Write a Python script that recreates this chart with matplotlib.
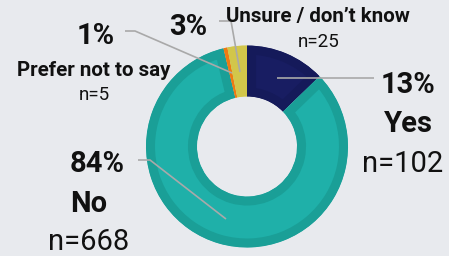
import matplotlib
matplotlib.use("Agg")
import matplotlib.pyplot as plt

# ---- data ----
categories = ["Yes", "No", "Prefer not to say", "Unsure / don\u2019t know"]
counts = [102, 668, 5, 25]
pct_labels = ["13%", "84%", "1%", "3%"]
n_labels = ["n=102", "n=668", "n=5", "n=25"]

# ---- style ----
dark_colors = ["#151a5a", "#1a9f97", "#ee7a12", "#d2c64a"]
light_colors = ["#181d62", "#1fb0a9", "#ee7a12", "#d2c64a"]
bg = "#e8eaee"
txt = "#111111"
line_c = "#a9a9a9"

W, H = 449, 256
fig = plt.figure(figsize=(W / 100, H / 100), dpi=100)
fig.patch.set_facecolor(bg)
ax = fig.add_axes([0, 0, 1, 1])

def Y(y):
    return H - y

cx, cy, R, width = 247, Y(146.5), 101, 51
wedges, _ = ax.pie(counts, colors=light_colors, radius=R, center=(cx, cy),
                   startangle=90, counterclock=False, frame=True,
                   wedgeprops=dict(width=width, linewidth=0))
ax.set_xlim(0, W)
ax.set_ylim(0, H)
ax.set_aspect("equal")
ax.axis("off")
for w, dc in zip(wedges, dark_colors):
    w.set_edgecolor(dc)
    w.set_linewidth(13)
    w.set_clip_on(True)
    w.set_clip_path(w)

font = "Roboto"
big = 21
med = 14.8
small = 13.5

def t(x, y, s, size, bold=False, ha="center"):
    ax.text(x, Y(y), s, fontsize=size, fontweight="bold" if bold else "normal",
            ha=ha, va="baseline", color=txt, family=font)

# Yes
t(408, 93, pct_labels[0], big, True)
t(408, 132, categories[0], big, True)
t(403, 172, n_labels[0], big)
# No
t(97, 172, pct_labels[1], big, True)
t(89, 212, categories[1], big, True)
t(88.5, 250, n_labels[1], big)
# Prefer not to say
t(96, 44, pct_labels[2], big, True)
t(94, 76, categories[2], med, True)
t(94, 100, n_labels[2], small)
# Unsure
t(318, 22, categories[3], med, True)
t(188, 35, pct_labels[3], big, True)
t(319, 47, n_labels[3], small)

# leader lines
leaders = [
    [(277, 78), (374, 78)],
    [(138, 160), (150, 160), (226, 219)],
    [(125, 31), (135, 31), (232, 73)],
    [(219, 21), (231, 21), (240, 72)],
]
for pts in leaders:
    xs = [p[0] for p in pts]
    ys = [Y(p[1]) for p in pts]
    ax.plot(xs, ys, color=line_c, lw=1.2, solid_capstyle="butt")

fig.savefig("out.png", dpi=100, facecolor=bg)
